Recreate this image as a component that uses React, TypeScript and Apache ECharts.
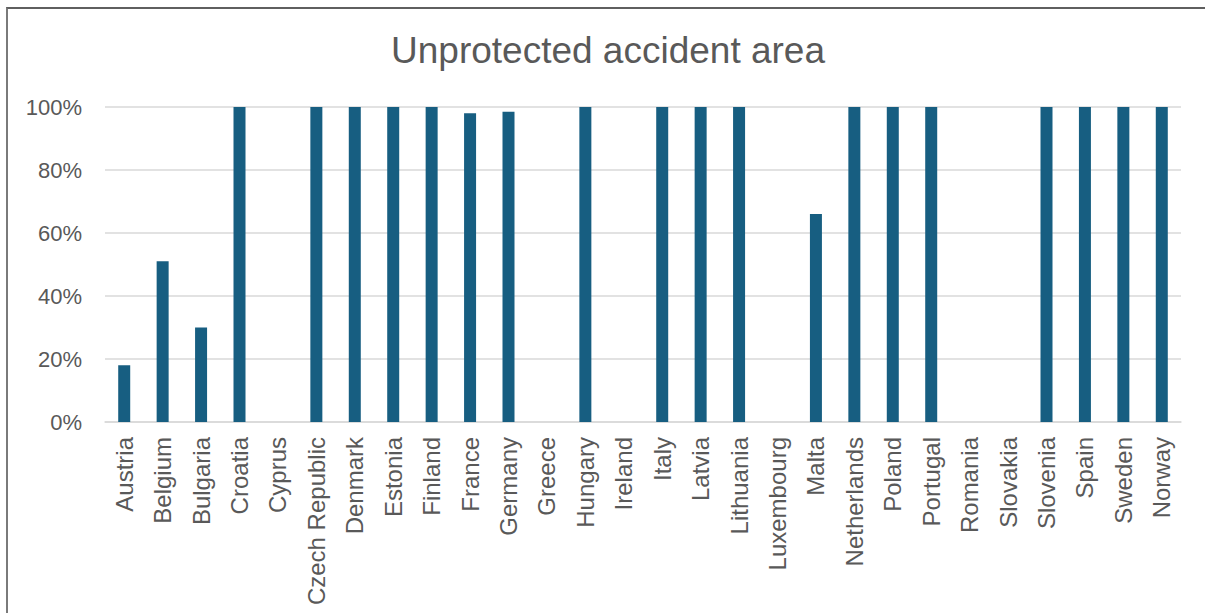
import React, { useEffect, useRef } from "react";
import * as echarts from "echarts";

const countries = [
  "Austria", "Belgium", "Bulgaria", "Croatia", "Cyprus", "Czech Republic",
  "Denmark", "Estonia", "Finland", "France", "Germany", "Greece", "Hungary",
  "Ireland", "Italy", "Latvia", "Lithuania", "Luxembourg", "Malta",
  "Netherlands", "Poland", "Portugal", "Romania", "Slovakia", "Slovenia",
  "Spain", "Sweden", "Norway",
];

// Share of unprotected accident area, in percent
const shares = [
  18, 51, 30, 100, 0, 100,
  100, 100, 100, 98, 98.5, 0, 100,
  0, 100, 100, 100, 0, 66,
  100, 100, 100, 0, 0, 100,
  100, 100, 100,
];

const titleText = "Unprotected accident area";
const yTicks = [0, 20, 40, 60, 80, 100];

export default function App() {
  const ref = useRef<HTMLDivElement>(null);

  useEffect(() => {
    if (!ref.current) return;
    const chart = echarts.init(ref.current, undefined, { renderer: "svg" });
    const font = "'Liberation Sans', Arial, sans-serif";
    chart.setOption({
      animation: false,
      graphic: [
        {
          type: "text",
          x: 608,
          y: 32,
          style: {
            text: titleText,
            fontFamily: font,
            fontSize: 37,
            fill: "#595959",
            textAlign: "center",
            textVerticalAlign: "top",
          },
        },
      ],
      grid: { left: 105, right: 24, top: 107, bottom: 191 },
      xAxis: {
        type: "category",
        data: countries,
        axisLine: { lineStyle: { color: "#d9d9d9", width: 1.5 } },
        axisTick: { show: false },
        axisLabel: {
          rotate: 90,
          interval: 0,
          margin: 15,
          fontFamily: font,
          fontSize: 24,
          color: "#595959",
        },
      },
      yAxis: {
        type: "value",
        min: yTicks[0],
        max: yTicks[yTicks.length - 1],
        interval: 20,
        axisLine: { show: false },
        axisTick: { show: false },
        splitLine: { lineStyle: { color: "#d9d9d9", width: 1.5 } },
        axisLabel: {
          margin: 23,
          fontFamily: font,
          fontSize: 22,
          color: "#595959",
          formatter: (v: number) => `${v}%`,
        },
      },
      series: [
        {
          type: "bar",
          data: shares,
          barWidth: 12,
          itemStyle: { color: "#175e81" },
        },
      ],
    });
    return () => chart.dispose();
  }, []);

  return (
    <div
      style={{
        position: "fixed",
        left: 0,
        top: 0,
        width: 1205,
        height: 613,
        overflow: "hidden",
        background: "#ffffff",
      }}
    >
      <div
        style={{
          position: "absolute",
          left: 6,
          top: 7,
          width: 1300,
          height: 700,
          borderLeft: "2px solid #7a7a7a",
          borderTop: "2px solid #5f5f5f",
        }}
      />
      <div ref={ref} style={{ position: "absolute", left: 0, top: 0, width: 1205, height: 613 }} />
    </div>
  );
}
